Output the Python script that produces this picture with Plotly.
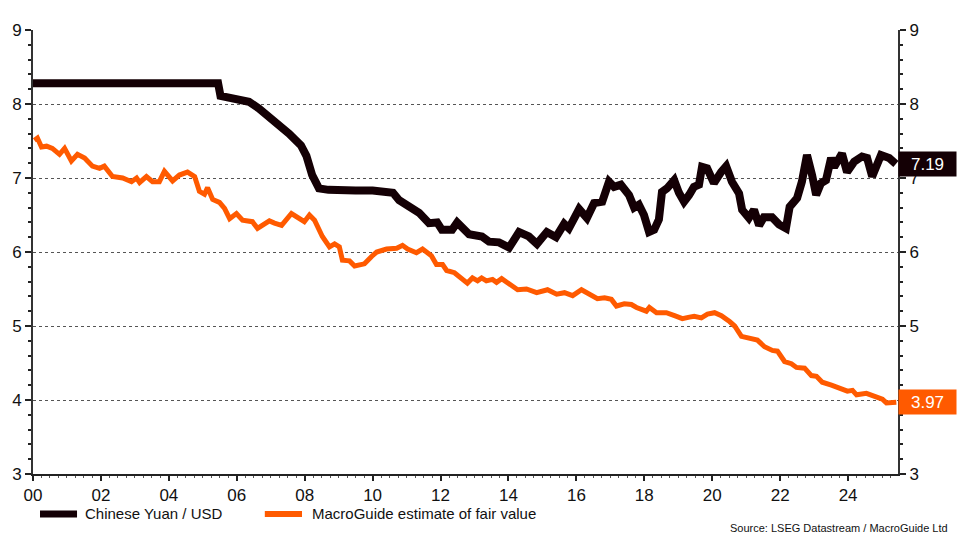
import plotly.graph_objects as go

# ---- data ----
cny_years = [2000.0, 2000.5, 2001.0, 2001.5, 2002.0, 2002.5, 2003.0, 2003.5, 2004.0, 2004.5,
             2005.0, 2005.45, 2005.52, 2005.75, 2006.0, 2006.36, 2006.65, 2007.16, 2007.54, 2007.89,
             2008.05, 2008.22, 2008.42, 2008.7, 2009.0, 2009.5, 2010.0, 2010.48, 2010.6, 2010.78,
             2011.07, 2011.37, 2011.66, 2011.9, 2012.04, 2012.34, 2012.49, 2012.63, 2012.84, 2013.22,
             2013.43, 2013.72, 2014.02, 2014.31, 2014.6, 2014.84, 2015.13, 2015.4, 2015.64, 2015.78,
             2016.08, 2016.31, 2016.52, 2016.76, 2016.96, 2017.11, 2017.31, 2017.55, 2017.7, 2017.84,
             2017.99, 2018.14, 2018.29, 2018.43, 2018.52, 2018.67, 2018.88, 2019.02, 2019.17, 2019.32,
             2019.46, 2019.61, 2019.7, 2019.85, 2020.05, 2020.26, 2020.41, 2020.58, 2020.79, 2020.88,
             2021.08, 2021.23, 2021.38, 2021.52, 2021.76, 2021.97, 2022.17, 2022.28, 2022.5, 2022.64,
             2022.79, 2022.94, 2023.06, 2023.2, 2023.35, 2023.5, 2023.59, 2023.82, 2023.97, 2024.18,
             2024.41, 2024.56, 2024.71, 2024.97, 2025.21, 2025.41]
cny_values = [8.28, 8.28, 8.28, 8.28, 8.28, 8.28, 8.28, 8.28, 8.28, 8.28,
              8.28, 8.28, 8.11, 8.09, 8.07, 8.03, 7.94, 7.76, 7.60, 7.44,
              7.30, 7.04, 6.86, 6.84, 6.83, 6.83, 6.83, 6.82, 6.80, 6.70,
              6.61, 6.53, 6.39, 6.40, 6.30, 6.30, 6.40, 6.34, 6.24, 6.21,
              6.14, 6.13, 6.06, 6.27, 6.21, 6.11, 6.27, 6.20, 6.38, 6.32,
              6.58, 6.46, 6.66, 6.68, 6.95, 6.88, 6.91, 6.77, 6.60, 6.64,
              6.50, 6.27, 6.30, 6.44, 6.81, 6.86, 6.97, 6.80, 6.68, 6.77,
              6.88, 6.91, 7.15, 7.13, 6.93, 7.08, 7.16, 6.95, 6.79, 6.57,
              6.46, 6.57, 6.36, 6.47, 6.47, 6.37, 6.32, 6.61, 6.73, 6.95,
              7.31, 7.04, 6.77, 6.93, 6.97, 7.27, 7.15, 7.33, 7.08, 7.22,
              7.29, 7.27, 7.02, 7.31, 7.27, 7.19]

fv_years = [2000.04, 2000.13, 2000.25, 2000.40, 2000.57, 2000.78, 2000.93, 2001.13, 2001.31, 2001.52,
            2001.75, 2001.96, 2002.10, 2002.34, 2002.64, 2002.90, 2003.05, 2003.14, 2003.34, 2003.52,
            2003.72, 2003.87, 2004.11, 2004.31, 2004.55, 2004.76, 2004.90, 2005.05, 2005.14, 2005.29,
            2005.49, 2005.64, 2005.79, 2005.99, 2006.17, 2006.46, 2006.61, 2006.88, 2006.96, 2007.11,
            2007.32, 2007.61, 2007.79, 2007.99, 2008.14, 2008.29, 2008.52, 2008.73, 2008.88, 2009.02,
            2009.11, 2009.32, 2009.47, 2009.76, 2009.97, 2010.12, 2010.41, 2010.71, 2010.88, 2011.03,
            2011.29, 2011.47, 2011.73, 2011.88, 2012.06, 2012.18, 2012.41, 2012.65, 2012.79, 2012.94,
            2013.09, 2013.21, 2013.35, 2013.53, 2013.65, 2013.80, 2014.03, 2014.27, 2014.53, 2014.83,
            2015.15, 2015.42, 2015.65, 2015.89, 2016.15, 2016.47, 2016.62, 2016.83, 2017.03, 2017.18,
            2017.41, 2017.62, 2017.77, 2018.06, 2018.15, 2018.36, 2018.65, 2018.89, 2019.12, 2019.33,
            2019.47, 2019.68, 2019.86, 2020.07, 2020.27, 2020.51, 2020.66, 2020.86, 2021.04, 2021.33,
            2021.54, 2021.77, 2021.92, 2022.13, 2022.33, 2022.48, 2022.72, 2022.92, 2023.07, 2023.24,
            2023.51, 2023.81, 2023.98, 2024.13, 2024.25, 2024.54, 2024.78, 2025.01, 2025.13, 2025.31,
            2025.42]
fv_values = [7.51, 7.54, 7.42, 7.43, 7.40, 7.32, 7.40, 7.23, 7.32, 7.27,
             7.16, 7.13, 7.16, 7.02, 7.00, 6.95, 7.00, 6.94, 7.02, 6.95,
             6.95, 7.09, 6.96, 7.04, 7.08, 7.02, 6.82, 6.78, 6.87, 6.71,
             6.67, 6.59, 6.45, 6.52, 6.43, 6.41, 6.32, 6.39, 6.42, 6.39,
             6.36, 6.52, 6.47, 6.41, 6.50, 6.43, 6.21, 6.07, 6.11, 6.07,
             5.89, 5.88, 5.81, 5.84, 5.94, 6.00, 6.04, 6.05, 6.09, 6.04,
             5.99, 6.04, 5.95, 5.83, 5.83, 5.75, 5.72, 5.63, 5.58, 5.65,
             5.61, 5.65, 5.61, 5.63, 5.59, 5.64, 5.56, 5.49, 5.50, 5.45,
             5.49, 5.43, 5.45, 5.41, 5.49, 5.40, 5.37, 5.38, 5.36, 5.27,
             5.30, 5.29, 5.25, 5.20, 5.25, 5.18, 5.18, 5.14, 5.10, 5.12,
             5.13, 5.11, 5.16, 5.18, 5.14, 5.06, 5.00, 4.86, 4.84, 4.81,
             4.72, 4.67, 4.66, 4.52, 4.49, 4.44, 4.43, 4.33, 4.32, 4.24,
             4.20, 4.15, 4.12, 4.13, 4.07, 4.09, 4.04, 4.01, 3.96, 3.97,
             3.97]

x_tick_vals = [2000, 2002, 2004, 2006, 2008, 2010, 2012, 2014, 2016, 2018, 2020, 2022, 2024]
x_tick_text = ["00", "02", "04", "06", "08", "10", "12", "14", "16", "18", "20", "22", "24"]
y_tick_vals = [3, 4, 5, 6, 7, 8, 9]

series_names = ["Chinese Yuan / USD", "MacroGuide estimate of fair value"]
last_labels = ["7.19", "3.97"]
source_text = "Source: LSEG Datastream / MacroGuide Ltd"

BLACK = "#140005"
ORANGE = "#FF5A00"
FONT = "Liberation Sans, Arial, sans-serif"

fig = go.Figure()
fig.add_trace(go.Scatter(x=cny_years, y=cny_values, mode="lines", name=series_names[0],
                         line=dict(color=BLACK, width=8), showlegend=False))
fig.add_trace(go.Scatter(x=fv_years, y=fv_values, mode="lines", name=series_names[1],
                         line=dict(color=ORANGE, width=5), showlegend=False))
# invisible trace to activate right axis
fig.add_trace(go.Scatter(x=[2000], y=[3], yaxis="y2", mode="markers",
                         marker=dict(opacity=0), showlegend=False, hoverinfo="skip"))

axis_common = dict(range=[3, 9], tickvals=y_tick_vals, ticks="outside", ticklen=6,
                   tickwidth=1.5, tickcolor="#222", showline=True, linecolor="#333",
                   linewidth=2, tickfont=dict(family=FONT, size=17, color="#111"),
                   minor=dict(tickmode="linear", tick0=3, dtick=0.2, ticks="outside",
                              ticklen=3, tickwidth=1.5, tickcolor="#222", showgrid=False),
                   zeroline=False, automargin=False)

fig.update_layout(
    width=960, height=540,
    margin=dict(l=33, r=62, t=30, b=66),
    paper_bgcolor="white", plot_bgcolor="white",
    font=dict(family=FONT, color="#111"),
    xaxis=dict(range=[2000, 2025.47], tickvals=x_tick_vals, ticktext=x_tick_text,
               ticks="outside", ticklen=5, tickwidth=1.5, tickcolor="#222",
               showline=True, linecolor="#222", linewidth=1.5, showgrid=False,
               zeroline=False, automargin=False,
               tickfont=dict(family=FONT, size=17, color="#111"),
               minor=dict(tickmode="linear", tick0=2000, dtick=0.25, ticks="outside",
                          ticklen=2, tickwidth=1, tickcolor="#555", showgrid=False)),
    yaxis=dict(**axis_common, side="left", showgrid=True, gridcolor="#555",
               griddash="dot", gridwidth=1),
    yaxis2=dict(**axis_common, side="right", overlaying="y", showgrid=False),
    showlegend=False,
)

# manual legend below the plot (paper coordinates)
legend_swatch_x = [(0.0081, 0.0509), (0.268, 0.311)]
legend_text_x = [0.0578, 0.320]
legend_y = -0.090
for name, color, (x0, x1), tx, w in zip(series_names, [BLACK, ORANGE], legend_swatch_x,
                                        legend_text_x, [7, 6]):
    fig.add_shape(type="line", xref="paper", yref="paper", x0=x0, x1=x1, y0=legend_y,
                  y1=legend_y, line=dict(color=color, width=w))
    fig.add_annotation(xref="paper", yref="paper", x=tx, y=legend_y, xanchor="left",
                       yanchor="middle", text=name, showarrow=False,
                       font=dict(family=FONT, size=15, color="#111"))

# last-value labels in the right margin (they sit over the right-axis numbers, as in the original)
fig.add_annotation(xref="paper", x=1.0, xanchor="left", yref="y", y=cny_values[-1],
                   text=last_labels[0], showarrow=False, bgcolor=BLACK, width=53, height=20,
                   font=dict(family=FONT, size=17, color="white"), borderpad=2, align="center")
fig.add_annotation(xref="paper", x=1.0, xanchor="left", yref="y", y=fv_values[-1],
                   text=last_labels[1], showarrow=False, bgcolor=ORANGE, width=53, height=20,
                   font=dict(family=FONT, size=17, color="white"), borderpad=2, align="center")
fig.add_annotation(xref="paper", x=1.060, xanchor="right", yref="paper", y=-0.1215,
                   yanchor="middle", text=source_text, showarrow=False,
                   font=dict(family=FONT, size=11, color="#111"))

fig.write_html("out.html", config={"displayModeBar": False})

# remove the browser's default page margin so the figure sits at (0, 0)
with open("out.html", "r", encoding="utf-8") as f:
    html = f.read()
html = html.replace("<head>", "<head><style>html,body{margin:0;padding:0;}</style>", 1)
with open("out.html", "w", encoding="utf-8") as f:
    f.write(html)
